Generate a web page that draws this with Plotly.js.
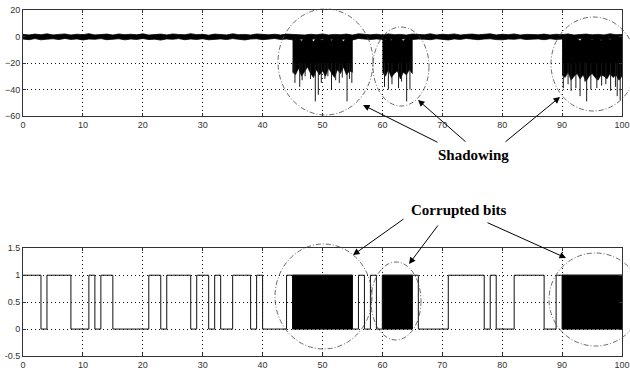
<!DOCTYPE html>
<html><head><meta charset="utf-8">
<script src="https://cdn.plot.ly/plotly-3.0.1.min.js"></script>
<style>html,body{margin:0;padding:0;background:#fff}#chart{width:630px;height:373px}</style>
</head><body><div id="chart"></div>
<script>
// ---------- top panel: received signal level (noise floor + shadowing) ----------
const baseT = [0,1,2,3,4,5,6,7,8,9,10,11,12,13,14,15,16,17,18,19,20,21,22,23,24,25,26,27,28,29,30,31,32,33,34,35,36,37,38,39,40,41,42,43,44,45,46,47,48,49,50,51,52,53,54,55,56,57,58,59,60,61,62,63,64,65,66,67,68,69,70,71,72,73,74,75,76,77,78,79,80,81,82,83,84,85,86,87,88,89,90,91,92,93,94,95,96,97,98,99,100];
const baseHigh = [1.6,1.2,1.8,1.3,2.0,1.2,1.6,1.9,1.1,1.7,
  1.4,2.1,1.2,1.5,1.8,1.1,1.9,1.4,1.7,1.3,
  2.0,1.1,1.6,1.8,1.2,1.9,1.5,1.3,2.1,1.4,
  1.7,1.0,1.8,1.5,1.2,2.0,1.4,1.6,1.1,1.9,
  1.5,1.3,1.7,1.2,1.8,1.4,1.5,1.1,1.7,1.3,
  1.9,1.2,1.6,1.4,1.8,1.1,2.0,1.5,1.3,1.7,
  1.2,1.9,1.4,1.6,1.1,1.8,1.5,1.3,2.0,1.2,
  1.7,1.4,1.9,1.1,1.6,1.8,1.3,1.5,2.0,1.2,
  1.7,1.4,1.9,1.1,1.6,1.5,1.3,1.8,1.2,1.7,
  1.4,1.9,1.1,1.5,1.8,1.3,1.6,1.2,2.0,1.4,
  1.5];
const baseLow = [-1.9,-2.4,-1.6,-2.5,-2.0,-1.7,-2.3,-1.5,-2.2,-1.8,
  -2.6,-1.9,-2.1,-1.6,-2.4,-2.0,-1.7,-2.5,-1.9,-2.2,
  -1.5,-2.3,-2.0,-2.7,-1.8,-2.1,-1.6,-2.4,-1.9,-2.2,
  -1.7,-2.5,-2.0,-1.8,-2.3,-1.6,-2.1,-2.6,-1.9,-1.7,
  -2.4,-2.0,-1.5,-2.2,-1.9,-2.5,-1.8,-2.1,-2.3,-1.6,
  -2.0,-2.4,-1.7,-2.2,-1.9,-2.6,-1.5,-2.1,-2.3,-1.8,
  -2.2,-1.7,-2.5,-2.0,-1.6,-2.3,-1.9,-2.1,-2.4,-1.7,
  -2.0,-2.6,-1.8,-2.2,-1.5,-2.1,-2.4,-1.9,-1.7,-2.3,
  -2.5,-1.9,-2.1,-1.6,-2.3,-2.0,-1.8,-2.4,-1.7,-2.2,
  -1.9,-2.5,-2.0,-1.6,-2.2,-1.8,-2.4,-2.1,-1.7,-2.3,
  -2.0];

const shadow1T = [45,45.5,46,46.5,47,47.5,48,48.5,49,49.5,50,50.5,51,51.5,52,52.5,53,53.5,54,54.5,55];
const shadow1Top = [-0.5,-2.5,-1.0,-3.5,-0.8,-2.0,-1.2,-4.0,-0.6,-1.8,-2.8,-0.9,-1.5,-3.2,-0.7,-2.2,-1.1,-3.8,-0.8,-1.6,-0.5];
const shadow1Bottom = [-26,-29,-24,-30,-27,-23,-28,-31,-25,-29,-26,-30,-24,-27,-31,-25,-28,-23,-29,-26,-27];
const shadow2T = [60,60.5,61,61.5,62,62.5,63,63.5,64,64.5,65];
const shadow2Top = [-0.6,-2.4,-1.0,-3.0,-0.8,-1.9,-1.3,-3.4,-0.7,-2.0,-0.9];
const shadow2Bottom = [-27,-30,-25,-31,-28,-26,-32,-27,-29,-25,-28];
const shadow3T = [90,90.5,91,91.5,92,92.5,93,93.5,94,94.5,95,95.5,96,96.5,97,97.5,98,98.5,99,99.5,100];
const shadow3Top = [-0.5,-1.8,-0.9,-2.8,-0.6,-1.5,-3.2,-0.8,-2.1,-1.0,-2.6,-0.7,-1.9,-3.0,-0.9,-1.4,-2.5,-0.6,-2.2,-1.1,-0.8];
const shadow3Bottom = [-29,-31,-27,-33,-30,-28,-32,-29,-34,-30,-28,-31,-33,-29,-30,-32,-28,-31,-29,-33,-30];

const spikeT = [45.1,45.4,46.2,46.6,47.1,48.0,48.8,49.3,49.8,50.4,50.9,51.5,52.2,52.8,53.3,54.1,54.5,54.9,
  60.35,61.0,61.6,62.7,63.2,64.05,64.6,
  90.2,91.0,91.5,92.3,93.0,93.8,94.1,94.8,95.8,96.6,97.3,98.1,98.9,99.2,99.7];
const spikeDepth = [-28,-35,-38,-33,-30,-32,-49,-44,-35,-32,-30,-40,-33,-35,-31,-49,-32,-35,
  -38,-40,-36,-39,-34,-49,-40,
  -39,-36,-41,-39,-45,-34,-49,-40,-39,-37,-36,-41,-38,-45,-48];
const spikeFrom = -20;

// ---------- bottom panel: bit stream ----------
const bitEdges = [0,1,2,3,4,5,6,7,8,9,10,11,12,13,14,15,16,17,18,19,20,21,22,23,24,25,26,27,28,29,30,31,32,33,34,35,36,37,38,39,40,41,42,43,44,45,46,47,48,49,50,51,52,53,54,55,56,57,58,59,60,61,62,63,64,65,66,67,68,69,70,71,72,73,74,75,76,77,78,79,80,81,82,83,84,85,86,87,88,89,90,91,92,93,94,95,96,97,98,99,100];
const bits = [1,1,1,0,1,1,1,1,0,0,
  0,1,0,1,1,0,0,0,0,0,
  0,1,1,0,1,1,1,1,0,1,
  1,0,1,0,0,1,1,1,0,1,
  0,0,0,0,1,1,1,1,1,1,
  1,1,1,1,1,0,1,0,1,0,
  1,1,1,1,1,1,0,0,0,0,
  0,1,1,1,1,1,1,0,1,0,
  0,0,1,1,1,1,1,0,0,1,
  1,1,1,1,1,1,1,1,1,1];
const corruptStart = [45,60,90];
const corruptEnd = [55,65,100];
const bitLow = 0, bitHigh = 1;

// ---------- layout geometry (pixels) ----------
const W=630,H=373,L=23,R=8,T=10,B=17;
const pw=W-L-R, ph=H-T-B;
const px=x=>(x-L)/pw, py=y=>1-(y-T)/ph;

const traces=[];
traces.push({x: baseT, y: baseLow, mode:'lines', line:{color:'#000',width:0.8}, xaxis:'x', yaxis:'y', hoverinfo:'skip'});
traces.push({x: baseT, y: baseHigh, mode:'lines', fill:'tonexty', fillcolor:'#000', line:{color:'#000',width:0.8}, xaxis:'x', yaxis:'y', hoverinfo:'skip'});
[[shadow1T,shadow1Top,shadow1Bottom],[shadow2T,shadow2Top,shadow2Bottom],[shadow3T,shadow3Top,shadow3Bottom]].forEach(([t,hi,lo])=>{
  traces.push({x: t.concat(t.slice().reverse()), y: hi.concat(lo.slice().reverse()),
    fill:'toself', fillcolor:'#000', line:{color:'#000',width:0.6}, mode:'lines', xaxis:'x', yaxis:'y', hoverinfo:'skip'});
});
const sx=[], sy=[];
spikeT.forEach((t,i)=>{ sx.push(t,t,null); sy.push(spikeFrom, spikeDepth[i], null); });
traces.push({x:sx, y:sy, mode:'lines', line:{color:'#1a1a1a',width:1}, xaxis:'x', yaxis:'y', hoverinfo:'skip', connectgaps:false});

corruptStart.forEach((s,i)=>{
  const e=corruptEnd[i];
  traces.push({x:[s,e,e,s,s], y:[bitLow,bitLow,bitHigh,bitHigh,bitLow], fill:'toself', fillcolor:'#000',
    line:{color:'#000',width:1}, mode:'lines', xaxis:'x2', yaxis:'y2', hoverinfo:'skip'});
});
traces.push({x: bitEdges, y: bits.concat([bits[bits.length-1]]), mode:'lines', line:{shape:'hv', color:'#111', width:1},
  xaxis:'x2', yaxis:'y2', hoverinfo:'skip'});

const tickFont={family:'Liberation Sans, Arial, sans-serif', size:9, color:'#333'};
const axBase={showline:true, linecolor:'#333', linewidth:1, mirror:'ticks', ticks:'inside', ticklen:3, tickcolor:'#333',
  showgrid:true, gridcolor:'#111', gridwidth:1, griddash:'1px,3px', zeroline:false, tickfont:tickFont, fixedrange:true,
  ticklabeloverflow:'allow'};

const circ=(x0,x1,y0,y1)=>({type:'circle', xref:'paper', yref:'paper', x0:px(x0), x1:px(x1), y0:py(y1), y1:py(y0),
  line:{color:'#444', width:0.8, dash:'5px,2px,1px,2px'}});
const shapes=[
  circ(278,373,9,115), circ(373,429,27,106), circ(551,636,17,111),
  circ(275,372,244,349), circ(371,421,262,340), circ(549,642,253,346)
];
const arrow=(tx,ty,hx,hy)=>({xref:'paper', yref:'paper', x:px(hx), y:py(hy), ax:tx-hx, ay:ty-hy, text:'',
  showarrow:true, arrowhead:2, arrowsize:1.3, arrowwidth:1, arrowcolor:'#000'});
const labelFont={family:'Liberation Serif, Times New Roman, serif', size:15, color:'#000'};
const annotations=[
  {xref:'paper', yref:'paper', x:px(473), y:py(155), text:'<b>Shadowing</b>', showarrow:false, font:labelFont, xanchor:'center', yanchor:'middle'},
  arrow(439,143,363,105), arrow(467,143,418,100), arrow(504,143,560,97),
  {xref:'paper', yref:'paper', x:px(458.5), y:py(209.5), text:'<b>Corrupted bits</b>', showarrow:false, font:labelFont, xanchor:'center', yanchor:'middle'},
  arrow(405,218,353,255), arrow(439,224,409,264), arrow(486,222,566,258)
];

const layout={
  width:W, height:H, margin:{l:L,r:R,t:T,b:B}, paper_bgcolor:'#fff', plot_bgcolor:'#fff', showlegend:false,
  xaxis:Object.assign({}, axBase, {domain:[0,1], anchor:'y', range:[0,100], tickvals:[0,10,20,30,40,50,60,70,80,90,100]}),
  yaxis:Object.assign({}, axBase, {domain:[py(116),1], anchor:'x', range:[-60,20], tickvals:[-60,-40,-20,0,20]}),
  xaxis2:Object.assign({}, axBase, {domain:[0,1], anchor:'y2', range:[0,100], tickvals:[0,10,20,30,40,50,60,70,80,90,100]}),
  yaxis2:Object.assign({}, axBase, {domain:[0,py(248.3)], anchor:'x2', range:[-0.5,1.5], tickvals:[-0.5,0,0.5,1,1.5], ticktext:['-0.5','0','0.5','1','1.5']}),
  shapes, annotations
};
Plotly.newPlot('chart', traces, layout, {staticPlot:true, displayModeBar:false});
</script></body></html>
